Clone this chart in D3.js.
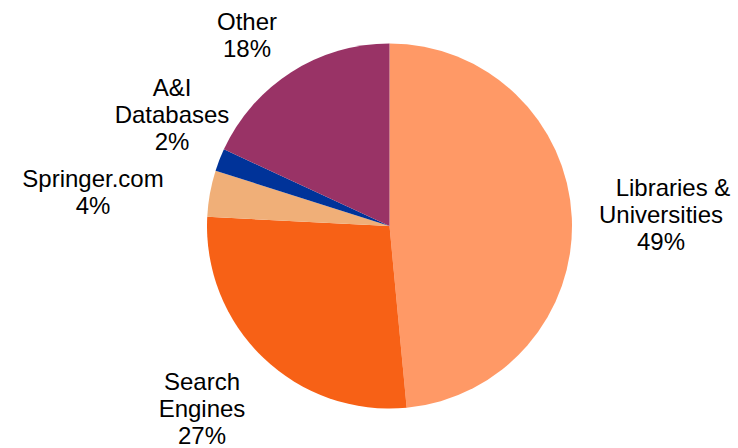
<!DOCTYPE html>
<html><head><meta charset="utf-8">
<script src="https://cdn.jsdelivr.net/npm/d3@7"></script>
<style>body{margin:0;background:#fff}svg{display:block}text{font-family:"Liberation Sans",Arial,sans-serif;fill:#000}</style>
</head><body>
<script>
const categories = ["Libraries & Universities", "Search Engines", "Springer.com", "A&I Databases", "Other"];
const values = [48.5, 27.3, 4.1, 2.0, 18.1];
const percentLabels = ["49%", "27%", "4%", "2%", "18%"];
const labelLines = [["Libraries &", "Universities"], ["Search", "Engines"], ["Springer.com"], ["A&I", "Databases"], ["Other"]];
const colors = ["#FF9966", "#F76116", "#F0AF78", "#003399", "#993366"];

const W = 738, H = 448;
const cx = 389.5, cy = 226, R = 182.5;
const svg = d3.select("body").append("svg").attr("width", W).attr("height", H);

const pie = d3.pie().sort(null).value(d => d.value);
const data = categories.map((c, i) => ({cat: c, value: values[i], pct: percentLabels[i], lines: labelLines[i], color: colors[i]}));
const arcs = pie(data);
const arc = d3.arc().innerRadius(0).outerRadius(R);

const g = svg.append("g").attr("transform", `translate(${cx},${cy})`);
g.selectAll("path").data(arcs).join("path")
  .attr("d", arc).attr("fill", d => d.data.color);

// label anchors (center x, first baseline y)
const labelPos = {
  "Libraries & Universities": [661, 196],
  "Search Engines": [202, 390],
  "Springer.com": [93, 187],
  "A&I Databases": [172, 96],
  "Other": [247, 30]
};
const lineH = 27;
const lineDx = {"Libraries &": 12};
data.forEach(d => {
  const [x, y] = labelPos[d.cat];
  const t = svg.append("text").attr("text-anchor", "middle").attr("font-size", 24);
  const all = d.lines.concat([d.pct]);
  all.forEach((ln, i) => {
    t.append("tspan").attr("x", x + (lineDx[ln] || 0)).attr("y", y + i * lineH).text(ln);
  });
});
</script>
</body></html>
